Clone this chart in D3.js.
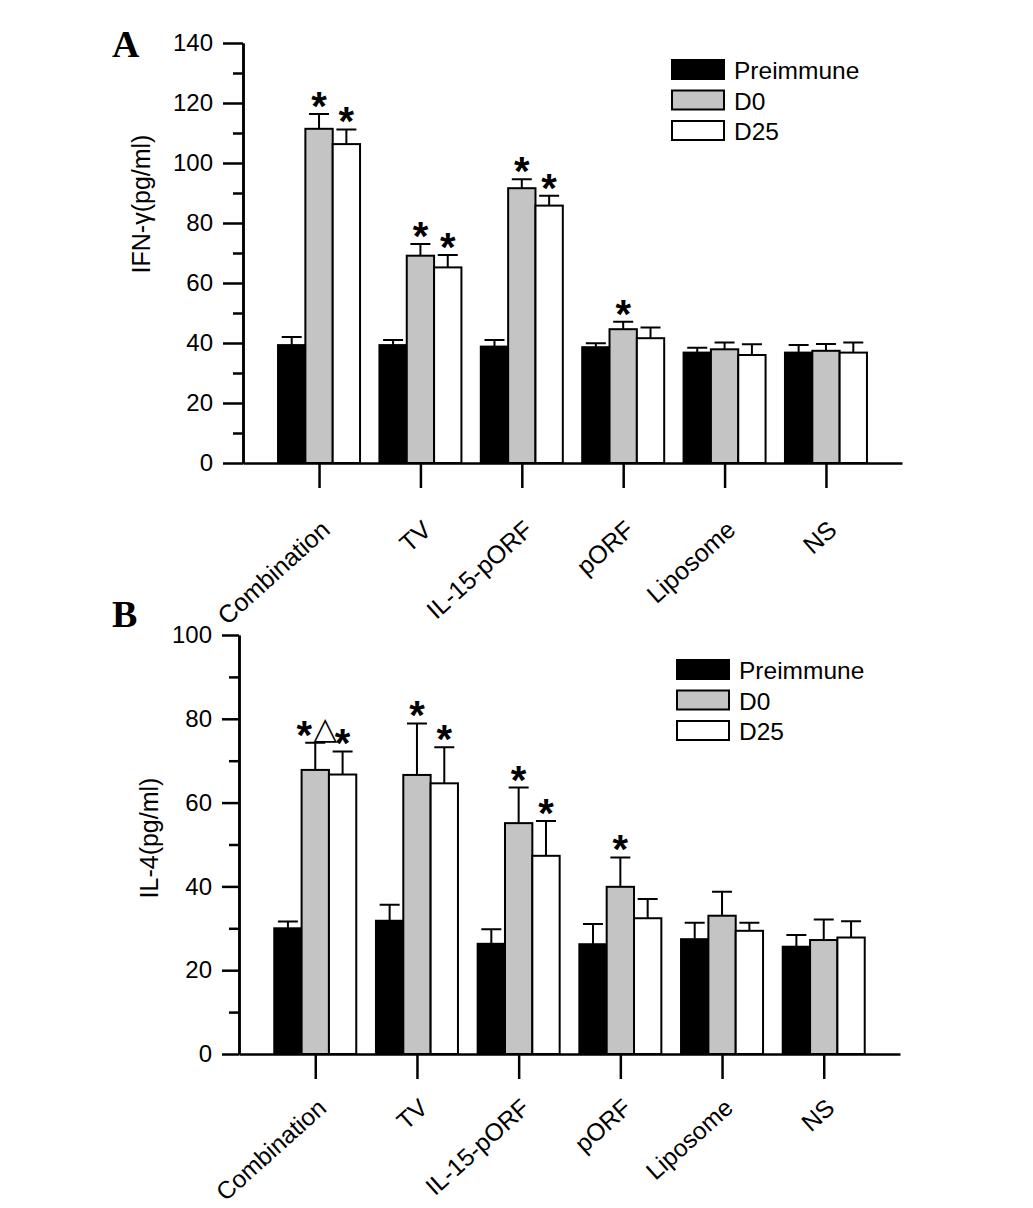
<!doctype html>
<html lang="en">
<head>
<meta charset="UTF-8" />
<title>IFN-γ and IL-4</title>
<script src="https://d3js.org/d3.v7.min.js"></script>
<style>
    body, html { margin: 0; padding: 0; background: #fff; }
    svg { display: block; }
    text { font-family: "Liberation Sans", Arial, sans-serif; fill: #000; }
    .axis path, .axis line { stroke: #000; stroke-width: 2.5px; }
    .axis text { font-family: "Liberation Sans", Arial, sans-serif; }
    .bar { stroke: #000; stroke-width: 2px; }
    .err { stroke: #000; stroke-width: 2px; fill: none; }
</style>
</head>
<body>
<svg id="chart" width="1033" height="1208"></svg>
<script>
    // categories and series
    const categories = ["Combination", "TV", "IL-15-pORF", "pORF", "Liposome", "NS"];
    const series = ["Preimmune", "D0", "D25"];

    // panel A, IFN-γ (pg/ml): means and upper error
    const ifnPre = [39.3, 39.3, 38.8, 38.6, 36.8, 36.8];
    const ifnPreErr = [2.7, 1.7, 2.2, 1.3, 1.6, 2.5];
    const ifnD0 = [111.4, 69.1, 91.6, 44.6, 37.9, 37.4];
    const ifnD0Err = [4.9, 3.9, 3.0, 2.5, 2.3, 2.3];
    const ifnD25 = [106.3, 65.2, 85.8, 41.6, 36.0, 36.8];
    const ifnD25Err = [4.9, 4.1, 3.3, 3.6, 3.6, 3.4];
    const ifnD0Mark = ["*", "*", "*", "*", "", ""];
    const ifnD25Mark = ["*", "*", "*", "", "", ""];
    const ifnTicks = [0, 20, 40, 60, 80, 100, 120, 140];

    // panel B, IL-4 (pg/ml)
    const il4Pre = [30.0, 31.8, 26.3, 26.2, 27.4, 25.6];
    const il4PreErr = [1.6, 3.8, 3.5, 4.8, 3.9, 2.8];
    const il4D0 = [67.8, 66.6, 55.1, 39.9, 33.0, 27.2];
    const il4D0Err = [6.5, 12.3, 8.5, 7.0, 5.7, 4.9];
    const il4D25 = [66.7, 64.6, 47.3, 32.4, 29.4, 27.8];
    const il4D25Err = [5.5, 8.6, 8.3, 4.6, 1.9, 3.9];
    const il4D0Mark = ["*△", "*", "*", "*", "", ""];
    const il4D25Mark = ["*", "*", "*", "", "", ""];
    const il4Ticks = [0, 20, 40, 60, 80, 100];

    const fills = { Preimmune: "#000000", D0: "#c4c4c4", D25: "#ffffff" };

    const svg = d3.select("#chart");
    svg.append("rect").attr("width", 1033).attr("height", 1208).attr("fill", "#fff");

    function drawPanel(p) {
        const g = svg.append("g");
        const y = d3.scaleLinear().domain([0, p.max]).range([p.y0, p.y1]);
        const x = d3.scalePoint().domain(categories).range([p.x0, p.x1]).padding(0.75);
        const xs = d3.scaleBand().domain(series).range([-41, 41]);

        const rows = [];
        series.forEach((s, si) => {
            categories.forEach((c, ci) => {
                rows.push({ c, s, v: p.vals[si][ci], e: p.errs[si][ci], m: p.marks[si] ? p.marks[si][ci] : "" });
            });
        });

        // error bars (upper only)
        g.selectAll(".err").data(rows).join("path")
            .attr("class", "err")
            .attr("d", d => {
                const cx = x(d.c) + xs(d.s) + xs.bandwidth() / 2;
                const top = y(d.v + d.e);
                return `M${cx},${y(d.v)}V${top}M${cx - 10},${top}H${cx + 10}`;
            });

        g.selectAll(".bar").data(rows).join("rect")
            .attr("class", "bar")
            .attr("x", d => x(d.c) + xs(d.s))
            .attr("width", xs.bandwidth())
            .attr("y", d => y(d.v))
            .attr("height", d => y(0) - y(d.v))
            .attr("fill", d => fills[d.s]);

        // significance marks
        rows.filter(d => d.m).forEach(d => {
            const cx = x(d.c) + xs(d.s) + xs.bandwidth() / 2;
            const top = y(d.v + d.e);
            if (d.m === "*△") {
                g.append("text").attr("x", cx - 11).attr("y", top + 6)
                    .attr("text-anchor", "middle").attr("font-size", 40).attr("font-weight", "bold").text("*");
                g.append("text").attr("x", cx + 10).attr("y", top - 4)
                    .attr("text-anchor", "middle").attr("font-size", 31)
                    .style("font-family", "'DejaVu Sans'").text("△");
            } else {
                g.append("text").attr("x", cx).attr("y", top + 6)
                    .attr("text-anchor", "middle").attr("font-size", 40).attr("font-weight", "bold").text(d.m);
            }
        });

        // y axis, minor then major ticks
        const minor = d3.range(0, p.max, 10).filter(v => v % 20 !== 0);
        g.append("g").attr("class", "axis")
            .attr("transform", `translate(${p.x0},0)`)
            .call(d3.axisLeft(y).tickValues(minor).tickSize(10).tickSizeOuter(0).tickFormat(""));
        g.append("g").attr("class", "axis")
            .attr("transform", `translate(${p.x0},0)`)
            .call(d3.axisLeft(y).tickValues(p.ticks).tickSize(p.tick).tickSizeOuter(0).tickPadding(10))
            .selectAll("text").attr("font-size", 24);

        // x axis
        const xa = g.append("g").attr("class", "axis")
            .attr("transform", `translate(0,${p.y0})`)
            .call(d3.axisBottom(x).tickSize(25).tickSizeOuter(0));
        xa.selectAll("text")
            .attr("font-size", p.labSize)
            .attr("text-anchor", "end")
            .attr("dy", 0)
            .attr("y", 0)
            .attr("transform", `translate(12,${p.lab}) rotate(-42)`);

        // y title
        g.append("text")
            .attr("transform", `translate(${p.titleX},${p.titleY}) rotate(-90)`)
            .attr("text-anchor", "middle")
            .attr("font-size", 25)
            .text(p.title);

        // panel letter
        g.append("text").attr("x", 112).attr("y", p.letterY)
            .attr("font-size", 38).attr("font-weight", "bold")
            .style("font-family", "'Liberation Serif', 'Times New Roman', serif")
            .text(p.letter);

        // legend
        const lg = g.append("g").attr("transform", `translate(${p.legX},${p.legY})`);
        series.forEach((s, i) => {
            lg.append("rect").attr("x", 0).attr("y", i * 30.5).attr("width", 52).attr("height", 19)
                .attr("fill", fills[s]).attr("stroke", "#000").attr("stroke-width", 2);
            lg.append("text").attr("x", 62).attr("y", i * 30.5 + 19).attr("font-size", 24.5).text(s);
        });
    }

    drawPanel({
        letter: "A", letterY: 57, title: "IFN-γ(pg/ml)", titleX: 150, titleY: 204,
        max: 140, ticks: ifnTicks, tick: 20,
        x0: 243, x1: 902, y0: 463, y1: 43, lab: 69, labSize: 25,
        vals: [ifnPre, ifnD0, ifnD25], errs: [ifnPreErr, ifnD0Err, ifnD25Err],
        marks: [null, ifnD0Mark, ifnD25Mark],
        legX: 672, legY: 60
    });

    drawPanel({
        letter: "B", letterY: 627, title: "IL-4(pg/ml)", titleX: 158, titleY: 838,
        max: 100, ticks: il4Ticks, tick: 17,
        x0: 239, x1: 900, y0: 1054, y1: 635, lab: 56, labSize: 24.5,
        vals: [il4Pre, il4D0, il4D25], errs: [il4PreErr, il4D0Err, il4D25Err],
        marks: [null, il4D0Mark, il4D25Mark],
        legX: 677, legY: 660
    });
</script>
</body>
</html>
